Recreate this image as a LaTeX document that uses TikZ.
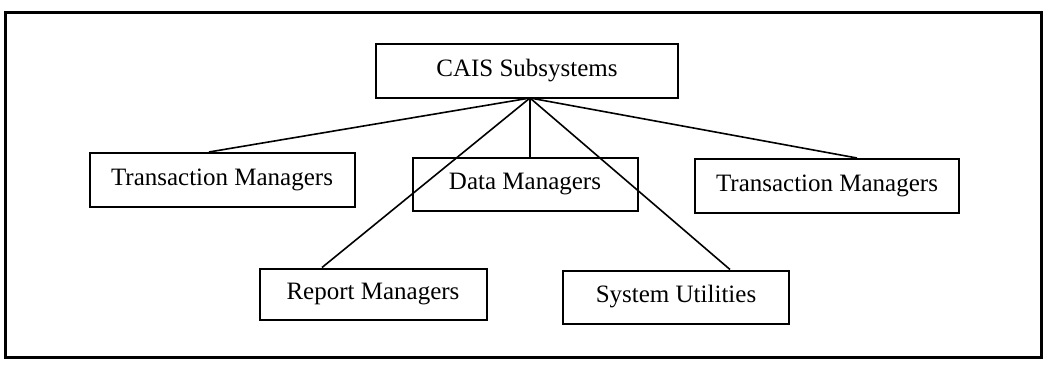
\documentclass[tikz,border=0pt]{standalone}
\usepackage{fontspec}
\setmainfont{Liberation Serif}
\usetikzlibrary{positioning}

\def \boxLine {2pt}
\def \linkLine {1.6pt}

\tikzset{
  subsys/.style={draw, line width=\boxLine, minimum height=53pt, inner sep=0pt,
    font=\fontsize{25}{29}\selectfont},
  link/.style={line width=\linkLine}
}

\begin{document}
\begin{tikzpicture}[x=1pt, y=-1pt]
   \useasboundingbox (0, 0) rectangle (1046, 370);
   \draw[line width=3pt] (5, 12) rectangle (1041, 357);

   % top of the tree
   \node[subsys, minimum width=302pt, minimum height=54pt] (cais) at (527, 71) {CAIS Subsystems};
   \coordinate (hub) at (530, 98);

   % first row
   \node[subsys, minimum width=265pt, minimum height=54pt] (tmLeft) at (222, 180) {Transaction Managers};
   \node[subsys, minimum width=225pt] (data) at (525, 184) {Data Managers};
   \node[subsys, minimum width=264pt, minimum height=54pt] (tmRight) at (827, 186) {Transaction Managers};

   % second row
   \node[subsys, minimum width=227pt, minimum height=51pt] (report) at (373, 294) {Report Managers};
   \node[subsys, minimum width=226pt] (utils) at (676, 297) {System Utilities};

   % links from the hub
   \draw[link] (hub) -- ([xshift=-13pt]tmLeft.north);
   \draw[link] (hub) -- (hub |- data.north);
   \draw[link] (hub) -- ([xshift=30pt]tmRight.north);
   \draw[link] (hub) -- ([xshift=-51pt]report.north);
   \draw[link] (hub) -- ([xshift=54pt]utils.north);
\end{tikzpicture}
\end{document}
